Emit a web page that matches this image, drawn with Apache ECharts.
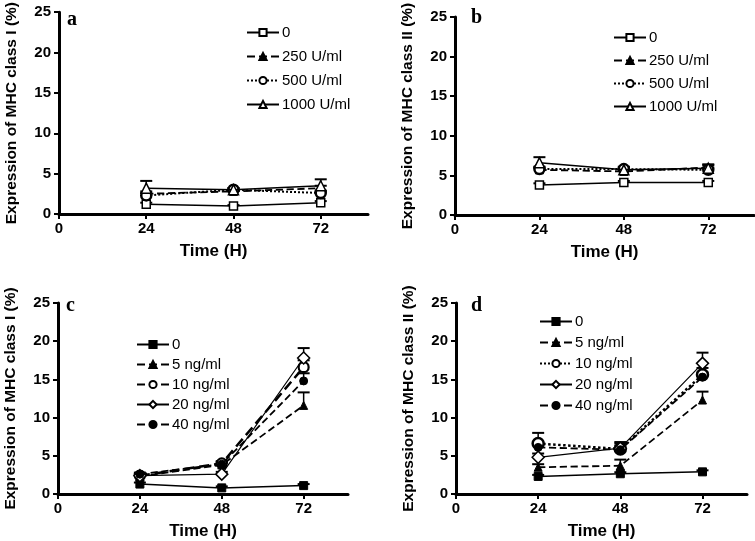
<!DOCTYPE html>
<html><head><meta charset="utf-8">
<script src="https://cdn.jsdelivr.net/npm/echarts@6/dist/echarts.min.js"></script>
<style>html,body{margin:0;padding:0;background:#fff}#c{width:755px;height:541px}</style>
</head><body><div id="c"></div>
<script>
// ---------- data ----------
const times = [24, 48, 72];
const xTickLabels = [0, 24, 48, 72];
const yTickLabels = [0, 5, 10, 15, 20, 25];

// Panel a – MHC class I (U/ml)
const aNames = ['0', '250 U/ml', '500 U/ml', '1000 U/ml'];
const a_0    = [1.2, 1.0, 1.4];
const a_250  = [2.5, 2.8, 3.2];
const a_500  = [2.3, 3.0, 2.6];
const a_1000 = [3.2, 3.0, 3.5];
const a_err  = [[0.2,0.1,0.2],[0.3,0.2,0.3],[0.3,0.2,0.3],[0.9,0.2,0.8]];

// Panel b – MHC class II (U/ml)
const bNames = ['0', '250 U/ml', '500 U/ml', '1000 U/ml'];
const b_0    = [3.8, 4.1, 4.1];
const b_250  = [5.7, 5.5, 6.0];
const b_500  = [5.8, 5.8, 5.7];
const b_1000 = [6.6, 5.7, 5.9];
const b_err  = [[0.2,0.2,0.2],[0.3,0.3,0.4],[0.3,0.3,0.3],[0.7,0.3,0.4]];

// Panel c – MHC class I (ng/ml)
const cNames = ['0', '5 ng/ml', '10 ng/ml', '20 ng/ml', '40 ng/ml'];
const c_0  = [1.3, 0.8, 1.1];
const c_5  = [2.3, 3.8, 11.6];
const c_10 = [2.4, 4.0, 16.6];
const c_20 = [2.4, 2.6, 17.8];
const c_40 = [2.6, 3.9, 14.8];
const c_err = [[0.2,0.2,0.2],[0.2,0.3,1.7],[0.2,0.3,0.9],[0.2,0.3,1.3],[0.2,0.3,1.0]];

// Panel d – MHC class II (ng/ml)
const dNames = ['0', '5 ng/ml', '10 ng/ml', '20 ng/ml', '40 ng/ml'];
const d_0  = [2.3, 2.65, 2.9];
const d_5  = [3.5, 3.7, 12.3];
const d_10 = [6.6, 5.9, 15.6];
const d_20 = [4.8, 6.0, 17.1];
const d_40 = [6.1, 5.8, 15.3];
const d_err = [[0.2,0.2,0.2],[0.4,0.8,1.1],[1.4,0.9,0.9],[0.5,0.6,1.4],[0.4,0.5,0.6]];

// ---------- styles ----------
const FONT = 'Liberation Sans';
const panels = [
  { key:'a', letter:'a', yName:'Expression of MHC class I (%)',
    grid:{left:59, top:12, width:309, height:202},
    legend:{left:241, top:20, itemGap:9},
    letterPos:[67, 10],
    names:aNames, data:[a_0,a_250,a_500,a_1000], err:a_err,
    styles:[
      {symbol:'rect', fill:'#fff', type:'solid', lw:1.5, size:8, bw:1.5},
      {symbol:'triangle', fill:'#000', type:'dashed', lw:1.8, size:8, bw:1},
      {symbol:'circle', fill:'#fff', type:'dotted', lw:2, size:10, bw:2.5},
      {symbol:'triangle', fill:'#fff', type:'solid', lw:1.5, size:10, bw:1.5}
    ]},
  { key:'b', letter:'b', yName:'Expression of MHC class II (%)',
    grid:{left:455, top:17, width:299, height:198},
    legend:{left:608, top:25, itemGap:8},
    letterPos:[471, 8],
    names:bNames, data:[b_0,b_250,b_500,b_1000], err:b_err,
    styles:[
      {symbol:'rect', fill:'#fff', type:'solid', lw:1.5, size:8, bw:1.5},
      {symbol:'triangle', fill:'#000', type:'dashed', lw:1.8, size:8, bw:1},
      {symbol:'circle', fill:'#fff', type:'dotted', lw:2, size:10, bw:2.5},
      {symbol:'triangle', fill:'#fff', type:'solid', lw:1.5, size:10, bw:1.5}
    ]},
  { key:'c', letter:'c', yName:'Expression of MHC class I (%)',
    grid:{left:58, top:303, width:290, height:194},
    legend:{left:131, top:332, itemGap:5},
    letterPos:[66, 296],
    names:cNames, data:[c_0,c_5,c_10,c_20,c_40], err:c_err,
    styles:[
      {symbol:'rect', fill:'#000', type:'solid', lw:1.5, size:8, bw:1},
      {symbol:'triangle', fill:'#000', type:'dashed', lw:1.8, size:8, bw:1},
      {symbol:'circle', fill:'#fff', type:'dashed', lw:2.5, size:10, bw:2.2},
      {symbol:'diamond', fill:'#fff', type:'solid', lw:1.2, size:12, bw:1.5},
      {symbol:'circle', fill:'#000', type:'dashed', lw:1.8, size:8, bw:1}
    ]},
  { key:'d', letter:'d', yName:'Expression of MHC class II (%)',
    grid:{left:456, top:303, width:291, height:195},
    legend:{left:534, top:309, itemGap:6},
    letterPos:[471, 296],
    names:dNames, data:[d_0,d_5,d_10,d_20,d_40], err:d_err,
    styles:[
      {symbol:'rect', fill:'#000', type:'solid', lw:1.5, size:8, bw:1},
      {symbol:'triangle', fill:'#000', type:'dashed', lw:1.8, size:8, bw:1},
      {symbol:'circle', fill:'#fff', type:'dotted', lw:2.5, size:11, bw:2.5},
      {symbol:'diamond', fill:'#fff', type:'solid', lw:1.2, size:12, bw:1.5},
      {symbol:'circle', fill:'#000', type:'dashed', lw:1.8, size:8, bw:1}
    ]}
];

const grid=[], xAxis=[], yAxis=[], series=[], legend=[], graphic=[];
panels.forEach((p, i) => {
  grid.push(Object.assign({containLabel:false}, p.grid));
  xAxis.push({
    type:'value', gridIndex:i, min:0, max:85,
    name:'Time (H)', nameLocation:'middle', nameGap:29,
    nameTextStyle:{fontFamily:FONT, fontWeight:'bold', fontSize:17, color:'#000'},
    axisLine:{lineStyle:{color:'#000', width:3}},
    axisTick:{show:true, length:5, lineStyle:{color:'#000', width:2}, customValues:xTickLabels},
    axisLabel:{fontFamily:FONT, fontWeight:'bold', fontSize:15, color:'#000', margin:7, customValues:xTickLabels},
    splitLine:{show:false}
  });
  yAxis.push({
    type:'value', gridIndex:i, min:0, max:25, interval:5,
    name:p.yName, nameLocation:'middle', nameGap:39,
    nameTextStyle:{fontFamily:FONT, fontWeight:'bold', fontSize:15.5, color:'#000'},
    axisLine:{show:true, lineStyle:{color:'#000', width:3}},
    axisTick:{show:true, length:5, lineStyle:{color:'#000', width:2}},
    axisLabel:{fontFamily:FONT, fontWeight:'bold', fontSize:15, color:'#000', margin:8,
      customValues:yTickLabels},
    splitLine:{show:false}
  });
  const legendData = [];
  p.names.forEach((nm, k) => {
    const s = p.styles[k];
    const full = p.key + ':' + nm;
    legendData.push(full);
    series.push({
      type:'line', name:full, xAxisIndex:i, yAxisIndex:i,
      data: times.map((t, j) => [t, p.data[k][j]]),
      symbol:s.symbol, symbolSize:s.size,
      lineStyle:{color:'#000', width:s.lw, type:s.type},
      itemStyle:{color:s.fill, borderColor:'#000', borderWidth:s.bw},
      z: 3 + k, animation:false
    });
    series.push({
      type:'custom', name:full+'-err', xAxisIndex:i, yAxisIndex:i, silent:true, z:2,
      data: times.map((t, j) => [t, p.data[k][j], p.err[k][j]]),
      renderItem:(params, api) => {
        const x = api.value(0), y = api.value(1), e = api.value(2);
        const top = api.coord([x, y + e]), mid = api.coord([x, y]);
        const w = 6;
        return {type:'group', children:[
          {type:'line', shape:{x1:top[0], y1:top[1], x2:mid[0], y2:mid[1]}, style:{stroke:'#000', lineWidth:1.5}},
          {type:'line', shape:{x1:top[0]-w, y1:top[1], x2:top[0]+w, y2:top[1]}, style:{stroke:'#000', lineWidth:2}}
        ]};
      },
      animation:false
    });
  });
  legend.push({
    data:legendData, orient:'vertical', left:p.legend.left, top:p.legend.top,
    itemGap:p.legend.itemGap, itemWidth:32, itemHeight:9,
    formatter: n => n.split(':')[1],
    textStyle:{fontFamily:FONT, fontSize:15, color:'#000', padding:[0,0,0,-2]},
    selectedMode:false
  });
  graphic.push({type:'text', left:p.letterPos[0], top:p.letterPos[1],
    style:{text:p.letter, font:'bold 20px "Liberation Serif"', fill:'#000'}});
});

const chart = echarts.init(document.getElementById('c'), null, {renderer:'canvas'});
chart.setOption({animation:false, backgroundColor:'#fff', grid, xAxis, yAxis, series, legend, graphic});
</script></body></html>
